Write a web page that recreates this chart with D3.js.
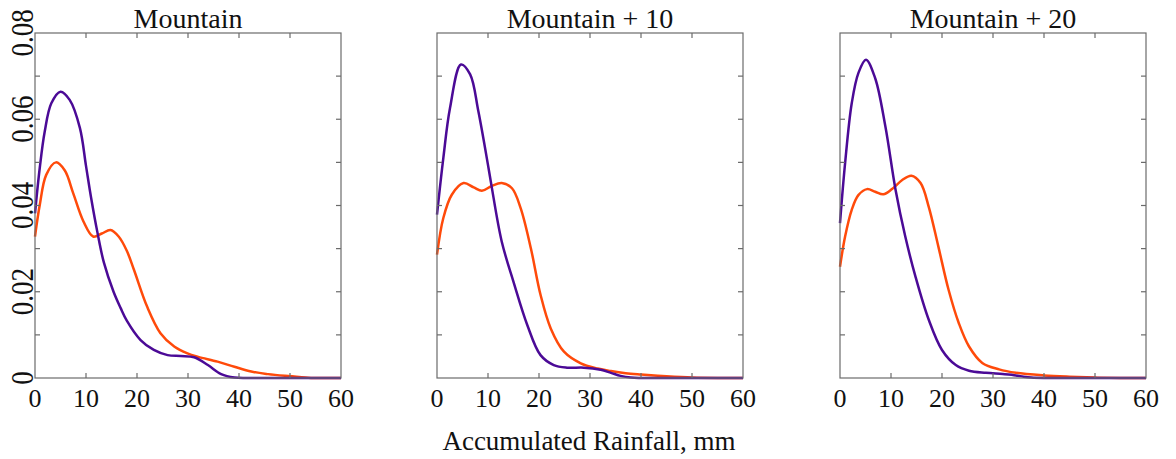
<!DOCTYPE html>
<html>
<head>
<meta charset="utf-8">
<script src="https://cdn.jsdelivr.net/npm/d3@7"></script>
<style>
  html, body { margin: 0; padding: 0; background: #fff; }
</style>
</head>
<body>
<svg id="chart" width="1176" height="459" font-family="'Liberation Serif', 'Times New Roman', Times, 'DejaVu Serif', serif"></svg>
<script>
// Panel titles
const panelTitles = ["Mountain", "Mountain + 10", "Mountain + 20"];

// Axis ticks
const xTicks = [0, 10, 20, 30, 40, 50, 60];
const yTicks = [0, 0.01, 0.02, 0.03, 0.04, 0.05, 0.06, 0.07, 0.08];
const yTickLabels = ["0", "", "0.02", "", "0.04", "", "0.06", "", "0.08"];

// Density curves: rainfall (mm) and density for each panel
const indigoX1 = [0, 0.93, 1.9, 3.2, 5, 6.8, 8.8, 10, 11, 12.2, 13.5, 15.4, 16.8, 18, 20.7, 23.3, 26, 28.6, 31.2, 33.9, 36.5, 39.1, 42, 50, 60];
const indigoY1 = [0.0382, 0.0487, 0.0571, 0.0637, 0.0664, 0.0645, 0.0580, 0.0492, 0.0418, 0.0340, 0.0268, 0.0200, 0.0162, 0.0133, 0.0088, 0.0065, 0.0053, 0.0051, 0.0048, 0.0030, 0.0009, 0.0001, 0, 0, 0];
const orangeX1 = [0, 0.93, 2.2, 4.1, 5.85, 7.5, 9.5, 11.4, 13.1, 14.8, 16.4, 18, 19.4, 22, 24.6, 27.3, 29.9, 32, 35.8, 39.1, 42.4, 45.7, 49, 52.3, 55, 60];
const orangeY1 = [0.0328, 0.0401, 0.0471, 0.0500, 0.0481, 0.0428, 0.0363, 0.0328, 0.0335, 0.0343, 0.0328, 0.0295, 0.0251, 0.0165, 0.0104, 0.0073, 0.0057, 0.0049, 0.0038, 0.0026, 0.0015, 0.0009, 0.0005, 0.0002, 0, 0];

const indigoX2 = [0, 1.24, 2.55, 4.7, 6.5, 8.1, 10.1, 10.7, 12.7, 15, 17.7, 20.3, 22.9, 25.5, 28.8, 32.1, 34.1, 36, 38, 40, 50, 60];
const indigoY2 = [0.0379, 0.0510, 0.0626, 0.0727, 0.0704, 0.0619, 0.0487, 0.0445, 0.0316, 0.0223, 0.0123, 0.0053, 0.0030, 0.0024, 0.0024, 0.0019, 0.0012, 0.0005, 0.0001, 0, 0, 0];
const orangeX2 = [0, 1.24, 2.9, 5.2, 7.2, 8.8, 10.7, 12.7, 14.7, 16.4, 18.4, 20.3, 22.3, 24.9, 28.2, 31.5, 34.1, 37, 40, 45, 50, 55, 60];
const orangeY2 = [0.0286, 0.0371, 0.0425, 0.0452, 0.0442, 0.0434, 0.0445, 0.0452, 0.0440, 0.0394, 0.0301, 0.0193, 0.0115, 0.0061, 0.0034, 0.0022, 0.0016, 0.0011, 0.0008, 0.0004, 0.0001, 0, 0];

const indigoX3 = [0, 1, 2.3, 3.6, 5.1, 6.9, 8.9, 10.9, 12.8, 14.8, 17.4, 20, 22.7, 25.3, 28.6, 31.9, 34.5, 36, 37.5, 40, 50, 60];
const indigoY3 = [0.0359, 0.0498, 0.0637, 0.0707, 0.0738, 0.0695, 0.0583, 0.0436, 0.0328, 0.0235, 0.0135, 0.0065, 0.0030, 0.0017, 0.0012, 0.0009, 0.0006, 0.0003, 0.0001, 0, 0, 0];
const orangeX3 = [0, 1, 2.3, 3.6, 5.3, 6.9, 8.5, 10.2, 12.2, 14, 15.8, 17.4, 19.3, 21.3, 23.3, 25.3, 27.9, 31.2, 34.5, 40, 45, 50, 55, 60];
const orangeY3 = [0.0258, 0.0328, 0.0390, 0.0424, 0.0438, 0.0432, 0.0426, 0.0438, 0.0459, 0.0469, 0.0452, 0.0397, 0.0304, 0.0204, 0.0127, 0.0073, 0.0035, 0.0020, 0.0012, 0.0006, 0.0003, 0.0001, 0, 0];

const xLabel = "Accumulated Rainfall, mm";
const indigoColor = "#4b0a96";
const orangeColor = "#ff4a0a";

const panels = [
  { title: panelTitles[0], left: 35,  series: [[orangeX1, orangeY1, orangeColor], [indigoX1, indigoY1, indigoColor]] },
  { title: panelTitles[1], left: 437, series: [[orangeX2, orangeY2, orangeColor], [indigoX2, indigoY2, indigoColor]] },
  { title: panelTitles[2], left: 840, series: [[orangeX3, orangeY3, orangeColor], [indigoX3, indigoY3, indigoColor]] }
];

const panelW = 306, plotTop = 33, plotBottom = 378;
const svg = d3.select("#chart");
const frameColor = "#6b6b6b";
const textColor = "#111";
const tickLen = 5;

panels.forEach((p, i) => {
  const x = d3.scaleLinear().domain([0, 60]).range([p.left, p.left + panelW]);
  const y = d3.scaleLinear().domain([0, 0.08]).range([plotBottom, plotTop]);
  const g = svg.append("g");

  // Smooth density curves
  const line = d3.line().x(d => x(d[0])).y(d => y(Math.max(0, d[1]))).curve(d3.curveCatmullRom.alpha(0.5));
  p.series.forEach(([xs, ys, color]) => {
    const pts = xs.map((v, k) => [v, ys[k]]);
    g.append("path").datum(pts)
      .attr("d", line)
      .attr("fill", "none")
      .attr("stroke", color)
      .attr("stroke-width", 2.5)
      .attr("stroke-linejoin", "round");
  });

  // Frame
  g.append("rect")
    .attr("x", x(0)).attr("y", y(0.08))
    .attr("width", x(60) - x(0)).attr("height", y(0) - y(0.08))
    .attr("fill", "none").attr("stroke", frameColor).attr("stroke-width", 1.2);

  // Inward ticks on all four sides
  const ax = g.append("g").attr("stroke", frameColor).attr("stroke-width", 1.2);
  xTicks.slice(1, -1).forEach(t => {
    ax.append("line").attr("x1", x(t)).attr("x2", x(t)).attr("y1", y(0)).attr("y2", y(0) - tickLen);
    ax.append("line").attr("x1", x(t)).attr("x2", x(t)).attr("y1", y(0.08)).attr("y2", y(0.08) + tickLen);
  });
  yTicks.slice(1, -1).forEach(t => {
    ax.append("line").attr("x1", x(0)).attr("x2", x(0) + tickLen).attr("y1", y(t)).attr("y2", y(t));
    ax.append("line").attr("x1", x(60)).attr("x2", x(60) - tickLen).attr("y1", y(t)).attr("y2", y(t));
  });

  // X tick labels
  g.selectAll("text.xt").data(xTicks).enter().append("text")
    .attr("class", "xt")
    .attr("x", d => x(d)).attr("y", 407)
    .attr("text-anchor", "middle")
    .attr("font-size", 26)
    .attr("fill", textColor)
    .text(d => d);

  // Title
  g.append("text")
    .attr("x", (x(0) + x(60)) / 2).attr("y", 28)
    .attr("text-anchor", "middle")
    .attr("font-size", 28)
    .attr("fill", textColor)
    .text(p.title);

  // Y tick labels on the first panel only
  if (i === 0) {
    yTicks.forEach((t, k) => {
      if (!yTickLabels[k]) return;
      g.append("text")
        .attr("transform", `translate(33,${y(t)}) rotate(-90) scale(1,1.2)`)
        .attr("text-anchor", "middle")
        .attr("font-size", 27)
        .attr("fill", textColor)
        .text(yTickLabels[k]);
    });
  }
});

svg.append("text")
  .attr("x", 589).attr("y", 450)
  .attr("text-anchor", "middle")
  .attr("font-size", 27)
  .attr("fill", textColor)
  .text(xLabel);
</script>
</body>
</html>
